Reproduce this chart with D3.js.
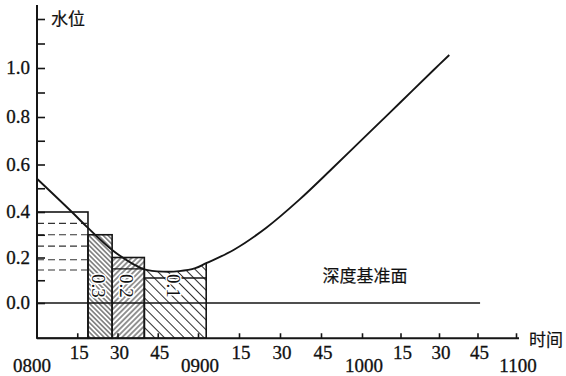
<!DOCTYPE html>
<html>
<head>
<meta charset="utf-8">
<script src="https://cdn.jsdelivr.net/npm/d3@7"></script>
<style>
  body { margin: 0; background: #fff; }
  svg text { font-family: "Liberation Serif", serif; font-size: 19px; fill: #111; stroke: #111; stroke-width: 0.3px; }
  svg text.cjk { font-family: "Noto Sans CJK SC", sans-serif; font-size: 17px; stroke-width: 0.2px; }
</style>
</head>
<body>
<svg id="chart" width="566" height="376"></svg>
<script>
// Water level curve (time, level in m)
let curveTimes = ["08:00", "08:13", "08:19", "08:28", "08:36", "08:40", "08:47", "08:53", "08:59",
  "09:03", "09:13", "09:25", "09:37", "09:49", "10:02", "10:15", "10:28", "10:34"];
let curveLevels = [0.54, 0.40, 0.33, 0.233, 0.17, 0.148, 0.138, 0.14, 0.153,
  0.175, 0.233, 0.331, 0.451, 0.582, 0.726, 0.86, 0.993, 1.053];

// Stepped boxes under the curve
let boxStarts = ["08:00", "08:19", "08:28", "08:40"];
let boxEnds = ["08:19", "08:28", "08:40", "09:03"];
let boxTops = [0.4, 0.3, 0.2, null]; // last box is closed by the curve
let boxLabels = ["", "0.3", "0.2", "0.1"];
let boxHatch = [null, "hatchA", "hatchB", "hatchC"];

// Horizontal lines inside boxes 3 and 4
let innerStarts = ["08:28", "08:40"];
let innerEnds = ["08:40", "09:03"];
let innerLevels = [0.15, 0.11];

// Dashed levels inside the first box
let dashLevels = [0.35, 0.3, 0.25, 0.19, 0.145];

// Chart datum line
let datumLevel = 0;
let datumEnd = "10:46";

// Axis ticks and labels
let yTicks = [0, 0.1, 0.2, 0.3, 0.4, 0.5, 0.6, 0.7, 0.8, 0.9, 1.0, 1.1, 1.2];
let yLabelValues = [0, 0.2, 0.4, 0.6, 0.8, 1.0];
let yLabels = ["0.0", "0.2", "0.4", "0.6", "0.8", "1.0"];
let xTickTimes = ["08:15", "08:30", "08:45", "09:00", "09:15", "09:30", "09:45",
  "10:00", "10:15", "10:30", "10:45", "11:00"];
let xLabelTimes = ["08:00", "08:15", "08:30", "08:45", "09:00", "09:15", "09:30", "09:45",
  "10:00", "10:15", "10:30", "10:45", "11:00"];
let xLabels = ["0800", "15", "30", "45", "0900", "15", "30", "45", "1000", "15", "30", "45", "1100"];

let parse = d3.timeParse("%H:%M");
let svg = d3.select("#chart");
let ink = "#151515";

// Hand drawn axes: the spacing is not quite even, so use piecewise scales
let x = d3.scaleTime()
  .domain(["08:00", "09:00", "10:00", "11:00"].map(parse))
  .range([37, 198, 362, 516]);
let y = d3.scaleLinear()
  .domain([0, 0.4, 0.8, 1.2])
  .range([303, 212, 117, 19]);
let axisLevel = -0.155;
let yBottom = y(axisLevel);

// Hatch patterns
let defs = svg.append("defs");
function hatch(id, gap, angle) {
  defs.append("pattern")
    .attr("id", id)
    .attr("patternUnits", "userSpaceOnUse")
    .attr("width", gap)
    .attr("height", gap)
    .attr("patternTransform", "rotate(" + angle + ")")
    .append("line")
    .attr("x1", gap / 2).attr("y1", -1)
    .attr("x2", gap / 2).attr("y2", gap + 1)
    .attr("stroke", ink)
    .attr("stroke-width", 0.9);
}
hatch("hatchA", 3.4, -45);
hatch("hatchB", 3.8, 45);
hatch("hatchC", 7, -45);

let curveData = curveTimes.map((t, i) => ({ t: parse(t), v: curveLevels[i] }));
let curveType = d3.curveCatmullRom.alpha(0.5);

// Area under the curve, used to close the last box
defs.append("clipPath")
  .attr("id", "underCurve")
  .append("path")
  .attr("d", d3.area()
    .x(d => x(d.t))
    .y0(yBottom)
    .y1(d => y(d.v))
    .curve(curveType)(curveData));

let boxes = boxStarts.map((s, i) => ({
  s: parse(s), e: parse(boxEnds[i]), top: boxTops[i], label: boxLabels[i], hatch: boxHatch[i]
}));

let boxG = svg.append("g");
boxG.selectAll("rect")
  .data(boxes)
  .enter()
  .append("rect")
  .attr("x", d => x(d.s))
  .attr("width", d => x(d.e) - x(d.s))
  .attr("y", d => d.top === null ? y(1.2) : y(d.top))
  .attr("height", d => yBottom - (d.top === null ? y(1.2) : y(d.top)))
  .attr("clip-path", d => d.top === null ? "url(#underCurve)" : null)
  .attr("fill", d => d.hatch ? "url(#" + d.hatch + ")" : "none")
  .attr("stroke", ink)
  .attr("stroke-width", 1.6);

// Inner level lines
boxG.selectAll("line.inner")
  .data(innerLevels)
  .enter()
  .append("line")
  .attr("class", "inner")
  .attr("x1", (d, i) => x(parse(innerStarts[i])))
  .attr("x2", (d, i) => x(parse(innerEnds[i])))
  .attr("y1", d => y(d))
  .attr("y2", d => y(d))
  .attr("stroke", ink)
  .attr("stroke-width", 1.4);

// Dashed levels
boxG.selectAll("line.dash")
  .data(dashLevels)
  .enter()
  .append("line")
  .attr("class", "dash")
  .attr("x1", x(parse(boxStarts[0])))
  .attr("x2", x(parse(boxEnds[0])) - 1)
  .attr("y1", d => y(d))
  .attr("y2", d => y(d))
  .attr("stroke", "#333")
  .attr("stroke-width", 1.1)
  .attr("stroke-dasharray", "7,4");

// Datum line
svg.append("line")
  .attr("x1", x(parse("08:00")))
  .attr("x2", x(parse(datumEnd)))
  .attr("y1", y(datumLevel))
  .attr("y2", y(datumLevel))
  .attr("stroke", ink)
  .attr("stroke-width", 1.5);

svg.append("text")
  .attr("class", "cjk")
  .attr("x", x(parse("10:00")) + 3)
  .attr("y", y(datumLevel) - 21)
  .attr("text-anchor", "middle")
  .text("深度基准面");

// Water level curve
svg.append("path")
  .datum(curveData)
  .attr("d", d3.line()
    .x(d => x(d.t))
    .y(d => y(d.v))
    .curve(curveType))
  .attr("fill", "none")
  .attr("stroke", ink)
  .attr("stroke-width", 1.9);

// Rotated box labels
svg.selectAll("text.boxLabel")
  .data(boxes.filter(d => d.label))
  .enter()
  .append("text")
  .attr("class", "boxLabel")
  .attr("transform", d => "translate(" + ((x(d.s) + x(d.e)) / 2 - 2) + "," + y(0.075) + ") rotate(90)")
  .attr("text-anchor", "middle")
  .attr("dy", "0.33em")
  .style("stroke", "#fff")
  .style("stroke-width", "3px")
  .style("paint-order", "stroke")
  .text(d => d.label);

// Y axis
let y0 = x(parse("08:00"));
svg.append("line")
  .attr("x1", y0).attr("x2", y0)
  .attr("y1", yBottom).attr("y2", y(1.2) - 14)
  .attr("stroke", ink)
  .attr("stroke-width", 2);

svg.append("g")
  .attr("transform", "translate(" + y0 + ",0)")
  .call(d3.axisRight(y).tickValues(yTicks).tickSize(8).tickFormat(""))
  .call(g => g.select(".domain").remove())
  .selectAll("line")
  .attr("stroke", ink)
  .attr("stroke-width", 1.6);

svg.selectAll("text.yLabel")
  .data(yLabelValues)
  .enter()
  .append("text")
  .attr("class", "yLabel")
  .attr("x", y0 - 7)
  .attr("y", d => y(d))
  .attr("dy", "0.33em")
  .attr("text-anchor", "end")
  .text((d, i) => yLabels[i]);

svg.append("text")
  .attr("class", "cjk")
  .attr("x", y0 + 14)
  .attr("y", y(1.2) + 6)
  .text("水位");

// X axis
svg.append("line")
  .attr("x1", y0).attr("x2", x(parse("11:00")) + 3)
  .attr("y1", yBottom).attr("y2", yBottom)
  .attr("stroke", ink)
  .attr("stroke-width", 2);

svg.append("g")
  .attr("transform", "translate(0," + yBottom + ")")
  .call(d3.axisTop(x).tickValues(xTickTimes.map(parse)).tickSize(5).tickFormat(""))
  .call(g => g.select(".domain").remove())
  .selectAll("line")
  .attr("stroke", ink)
  .attr("stroke-width", 1.6);

svg.selectAll("text.xLabel")
  .data(xLabelTimes)
  .enter()
  .append("text")
  .attr("class", "xLabel")
  .attr("x", (d, i) => x(parse(d)) + (i === 0 ? -5 : 2))
  .attr("y", (d, i) => xLabels[i].length === 4 ? yBottom + 34 : yBottom + 21)
  .attr("text-anchor", "middle")
  .text((d, i) => xLabels[i]);

svg.append("text")
  .attr("class", "cjk")
  .attr("x", x(parse("11:00")) + 13)
  .attr("y", yBottom + 8)
  .text("时间");
</script>
</body>
</html>
